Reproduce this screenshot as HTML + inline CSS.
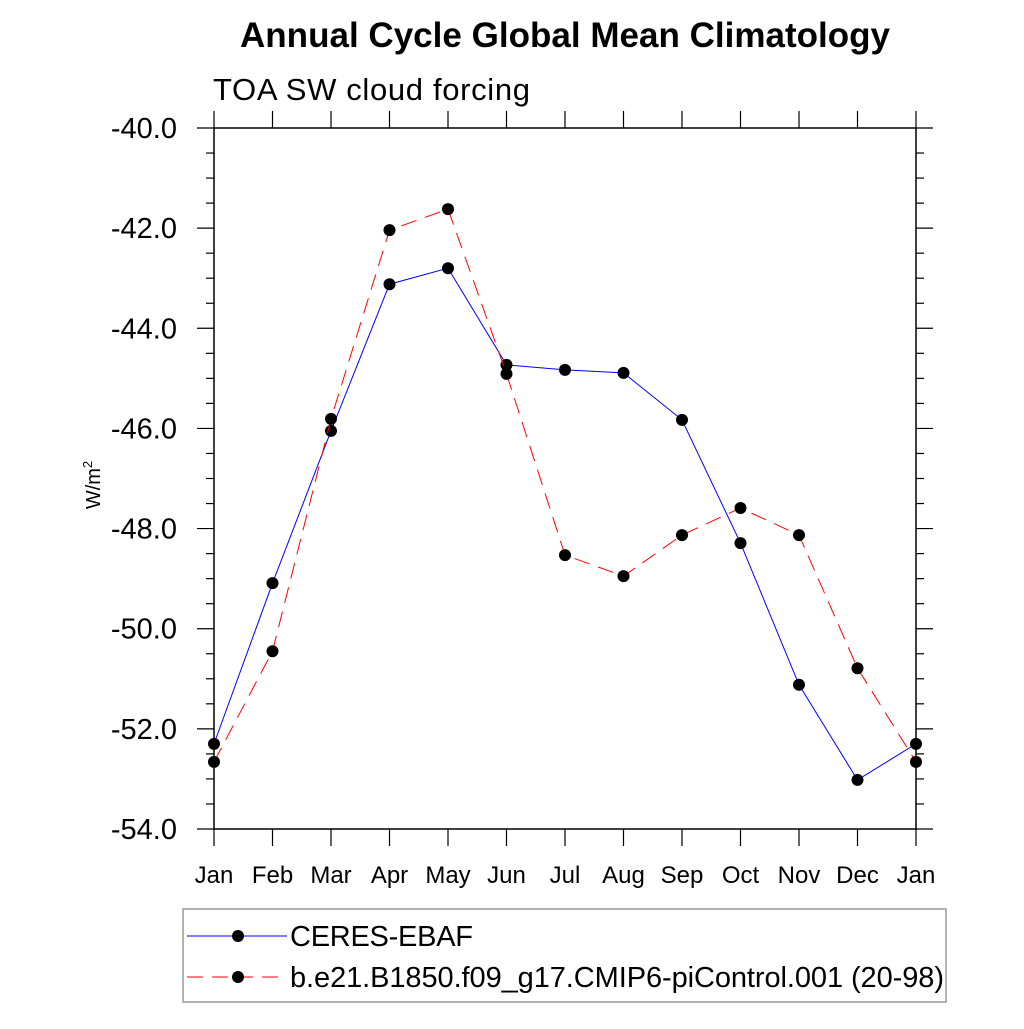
<!DOCTYPE html>
<html><head><meta charset="utf-8"><style>
body{margin:0;background:#fff}
svg text{font-family:"Liberation Sans",sans-serif}
</style></head><body>
<svg id="chart" width="1024" height="1024" xmlns="http://www.w3.org/2000/svg">
<text x="565" y="47" font-size="35" font-weight="bold" text-anchor="middle" textLength="650">Annual Cycle Global Mean Climatology</text>
<text x="213" y="100" font-size="31" textLength="317">TOA SW cloud forcing</text>
<text transform="translate(100,485) rotate(-90)" font-size="20" text-anchor="middle">W/m<tspan font-size="13" dy="-8">2</tspan></text>
<g id="axes"></g>
<g id="series"></g>
<rect x="183" y="909" width="763" height="93" fill="none" stroke="#999" stroke-width="1.5"/>
<g>
<line x1="187" y1="936" x2="287" y2="936" stroke="#00f" stroke-width="1"/>
<circle cx="238" cy="936" r="6" fill="#000"/>
<text x="290" y="946" font-size="29" textLength="183">CERES-EBAF</text></g>
<g>
<line x1="187" y1="977" x2="287" y2="977" stroke="#f00" stroke-width="1" stroke-dasharray="16,9"/>
<circle cx="238" cy="977" r="6" fill="#000"/>
<text x="290" y="987" font-size="29" textLength="654">b.e21.B1850.f09_g17.CMIP6-piControl.001 (20-98)</text></g>
</svg>
<script>
const months=["Jan","Feb","Mar","Apr","May","Jun","Jul","Aug","Sep","Oct","Nov","Dec","Jan"];
const ceres=[-52.3,-49.09,-46.05,-43.12,-42.8,-44.73,-44.83,-44.89,-45.83,-48.29,-51.12,-53.02,-52.3];
const model=[-52.66,-50.45,-45.81,-42.04,-41.62,-44.91,-48.53,-48.95,-48.13,-47.59,-48.13,-50.79,-52.66];
const yTicks=[-40,-42,-44,-46,-48,-50,-52,-54];
const NS="http://www.w3.org/2000/svg";
const L=214,R=916,T=128,B=829;
const x=i=>L+(R-L)*i/(months.length-1);
const y=v=>T+(B-T)*(-40-v)/14;
function mk(tag,attrs,parent){const e=document.createElementNS(NS,tag);for(const k in attrs)e.setAttribute(k,attrs[k]);parent.appendChild(e);return e;}
const ax=document.getElementById("axes");
const fr=mk("rect",{x:L,y:T,width:R-L,height:B-T,fill:"none",stroke:"#000","stroke-width":1.5},ax);


for(let v=-40;v>=-54;v-=0.5){
  const major=Math.abs(v%2)<1e-9;
  const len=major?17:8;
  mk("line",{x1:L-len,y1:y(v),x2:L,y2:y(v),stroke:"#000","stroke-width":1.2},ax);
  mk("line",{x1:R,y1:y(v),x2:R+len,y2:y(v),stroke:"#000","stroke-width":1.2},ax);
}
yTicks.forEach(v=>{
  const t=mk("text",{x:177,y:y(v)+10,"font-size":29,"text-anchor":"end"},ax);
  t.textContent=v.toFixed(1);
  
  
});
months.forEach((m,i)=>{
  mk("line",{x1:x(i),y1:T-17,x2:x(i),y2:T,stroke:"#000","stroke-width":1.2},ax);
  mk("line",{x1:x(i),y1:B,x2:x(i),y2:B+17,stroke:"#000","stroke-width":1.2},ax);
  const t=mk("text",{x:x(i),y:883,"font-size":24,"text-anchor":"middle"},ax);
  t.textContent=m;
  
  
});
const sg=document.getElementById("series");
function draw(vals,color,dash,name){
  const g=mk("g",{},sg);
  
  
  const p=mk("polyline",{points:vals.map((v,i)=>x(i)+","+y(v)).join(" "),fill:"none",stroke:color,"stroke-width":1,"stroke-dasharray":dash},g);
  
  
  vals.forEach((v,i)=>{
    const c=mk("circle",{cx:x(i),cy:y(v),r:6,fill:"#000"},g);
    
    
  });
}
draw(ceres,"#00f","none","ceres-series");
draw(model,"#f00","16,9","model-series");
</script>
</body></html>
